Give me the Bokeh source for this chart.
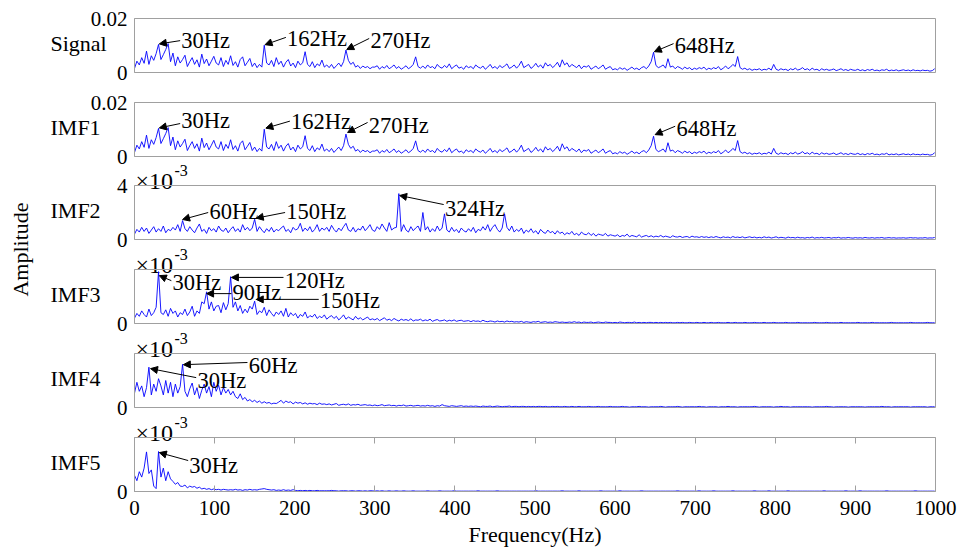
import numpy as np
from bokeh.plotting import figure
from bokeh.models import (Range1d, FixedTicker, LinearAxis, Label, Arrow,
                          NormalHead, CustomJSTickFormatter, ColumnDataSource)
from bokeh.layouts import column, row
from bokeh.embed import file_html
from bokeh.resources import INLINE

# ---------------- data (frequency bins every 3 Hz, 0..999 Hz) ----------------
freq_hz = np.arange(0, 1000, 3)

# Signal amplitude, units of 1e-4
signal_amp_e4 = [
    15, 42, 28, 55, 34, 79, 30, 62, 45, 70, 104, 48, 66, 85, 107, 40, 72, 25, 58, 35,
    48, 64, 22, 40, 55, 30, 47, 20, 68, 33, 50, 25, 42, 60, 35, 28, 55, 22, 45, 30,
    62, 26, 40, 20, 48, 58, 25, 38, 52, 22, 35, 18, 30, 20, 101, 35, 28, 45, 22, 55,
    30, 42, 20, 38, 48, 24, 35, 18, 42, 28, 36, 77, 30, 22, 40, 18, 32, 25, 46, 20,
    28, 18, 30, 15, 25, 35, 22, 40, 83, 45, 30, 38, 20, 26, 15, 24, 18, 22, 14, 20,
    20, 25, 12, 22, 16, 26, 14, 20, 28, 15, 22, 12, 18, 25, 14, 20, 30, 58, 22, 16,
    24, 15, 28, 18, 22, 14, 30, 20, 16, 26, 18, 32, 14, 22, 28, 16, 20, 12, 25, 18,
    22, 14, 28, 20, 16, 24, 12, 20, 30, 16, 22, 14, 26, 18, 24, 32, 15, 20, 28, 16,
    26, 42, 18, 24, 30, 15, 22, 34, 20, 28, 16, 36, 24, 30, 18, 26, 38, 20, 47, 28,
    36, 20, 30, 24, 18, 28, 14, 24, 20, 26, 12, 18, 24, 14, 20, 28, 12, 18, 22, 10,
    14, 10, 18, 12, 16, 8, 14, 20, 12, 16, 10, 18, 22, 14, 24, 40, 75, 26, 18, 22,
    28, 16, 51, 20, 24, 14, 22, 18, 12, 20, 14, 18, 10, 16, 12, 18, 14, 20, 10, 16,
    12, 18, 14, 22, 10, 16, 24, 14, 20, 30, 22, 59, 18, 12, 16, 10, 14, 8, 12, 10,
    14, 8, 12, 10, 16, 9, 30, 12, 8, 14, 10, 12, 7, 14, 10, 16, 9, 12, 18, 10,
    14, 8, 16, 10, 12, 7, 14, 9, 12, 8, 10, 13, 7, 10, 14, 8, 11, 7, 12, 9,
    8, 12, 7, 10, 6, 11, 8, 12, 7, 9, 6, 10, 8, 12, 6, 9, 7, 10, 6, 8,
    10, 7, 9, 6, 10, 7, 8, 6, 9, 7, 8, 5, 7, 14,
]
# IMF1 reads identical to the signal spectrum in the picture
imf1_amp_e4 = list(signal_amp_e4)

# IMF2..IMF5 amplitude, units of 1e-5
imf2_amp_e5 = [
    40, 75, 55, 90, 60, 85, 45, 70, 95, 55, 80, 60, 100, 50, 75, 65, 90, 70, 110, 60,
    140, 80, 60, 95, 70, 50, 85, 115, 60, 75, 45, 90, 65, 80, 55, 100, 70, 60, 85, 50,
    75, 95, 60, 80, 55, 110, 70, 90, 65, 85, 150, 60, 95, 70, 50, 80, 60, 90, 55, 75,
    65, 85, 100, 60, 75, 50, 90, 70, 80, 120, 60, 85, 65, 95, 55, 75, 110, 60, 85, 70,
    90, 60, 105, 75, 55, 85, 65, 95, 120, 70, 60, 90, 55, 80, 70, 100, 65, 85, 110, 70,
    60, 95, 75, 115, 85, 60, 125, 70, 85, 90, 340, 60, 110, 70, 55, 95, 65, 85, 100, 60,
    200, 70, 95, 55, 80, 60, 100, 65, 85, 190, 70, 55, 90, 60, 75, 50, 85, 65, 55, 80,
    60, 90, 50, 75, 65, 95, 70, 110, 60, 90, 110, 75, 55, 85, 190, 90, 65, 100, 55, 75,
    60, 85, 45, 70, 55, 80, 50, 65, 40, 75, 55, 45, 70, 50, 60, 40, 65, 45, 55, 35,
    50, 40, 60, 35, 45, 30, 55, 40, 35, 50, 30, 45, 25, 40, 35, 30, 45, 25, 35, 30,
    25, 35, 20, 30, 25, 40, 20, 30, 25, 20, 35, 18, 25, 30, 20, 28, 18, 25, 20, 30,
    18, 25, 20, 15, 28, 20, 18, 24, 15, 20, 22, 14, 25, 18, 20, 15, 22, 16, 20, 14,
    20, 15, 22, 16, 12, 20, 15, 18, 12, 22, 15, 18, 14, 20, 12, 16, 20, 14, 18, 12,
    16, 12, 20, 14, 18, 11, 15, 20, 12, 16, 14, 10, 18, 13, 15, 11, 17, 12, 14, 10,
    15, 12, 18, 10, 14, 12, 16, 11, 13, 15, 10, 14, 12, 16, 10, 13, 11, 15, 12, 10,
    14, 11, 13, 10, 15, 12, 11, 14, 10, 13, 12, 15, 10, 12, 14, 11, 13, 10, 12, 11,
    13, 10, 12, 14, 11, 13, 10, 12, 11, 14, 10, 12, 11, 15,
]
imf3_amp_e5 = [
    15, 28, 20, 35, 25, 18, 40, 22, 30, 45, 144, 30, 25, 38, 20, 42, 28, 35, 18, 30,
    25, 40, 22, 32, 48, 20, 35, 28, 60, 55, 88, 40, 60, 35, 48, 50, 30, 58, 38, 55,
    130, 45, 60, 35, 50, 28, 40, 30, 48, 40, 62, 25, 35, 30, 45, 22, 38, 28, 20, 32,
    25, 35, 20, 42, 18, 30, 22, 28, 15, 25, 20, 32, 15, 22, 18, 26, 14, 20, 16, 24,
    12, 18, 22, 14, 20, 10, 16, 24, 12, 18, 14, 10, 20, 12, 16, 10, 14, 18, 10, 13,
    10, 14, 8, 12, 16, 9, 12, 8, 14, 10, 7, 12, 9, 11, 8, 13, 7, 10, 9, 12,
    7, 10, 8, 12, 6, 9, 11, 7, 8, 10, 6, 9, 7, 10, 6, 8, 9, 6, 7, 8,
    5, 8, 6, 7, 5, 9, 6, 5, 7, 6, 4, 7, 5, 6, 4, 7, 5, 6, 4, 5,
    4, 6, 3, 5, 4, 3, 5, 4, 6, 3, 4, 5, 3, 4, 3, 5, 4, 3, 4, 3,
    3, 4, 3, 5, 3, 4, 2, 4, 3, 3, 4, 2, 3, 4, 3, 2, 4, 3, 3, 2,
    3, 2, 4, 3, 2, 3, 3, 2, 4, 2, 3, 2, 3, 2, 3, 3, 2, 3, 2, 3,
    2, 3, 2, 3, 2, 2, 3, 2, 3, 2, 2, 3, 2, 2, 3, 2, 2, 3, 2, 2,
    3, 2, 2, 3, 2, 2, 2, 3, 2, 2, 3, 2, 2, 2, 3, 2, 2, 2, 3, 2,
    2, 2, 3, 2, 2, 2, 3, 2, 2, 2, 2, 3, 2, 2, 2, 2, 3, 2, 2, 2,
    2, 2, 2, 3, 2, 2, 2, 2, 3, 2, 2, 2, 2, 2, 3, 2, 2, 2, 2, 2,
    2, 3, 2, 2, 2, 2, 2, 3, 2, 2, 2, 2, 2, 2, 2, 3, 2, 2, 2, 2,
    2, 2, 2, 3, 2, 2, 2, 2, 2, 2, 3, 2, 2, 2,
]
imf4_amp_e5 = [
    40, 70, 45, 60, 30, 55, 112, 35, 65, 45, 80, 60, 35, 75, 40, 70, 30, 65, 40, 58,
    120, 45, 30, 52, 68, 35, 55, 25, 48, 65, 40, 58, 30, 70, 45, 62, 35, 55, 40, 50,
    35, 45, 30, 25, 38, 22, 28, 18, 22, 16, 20, 14, 18, 12, 16, 12, 14, 10, 12, 11,
    15, 20, 12, 18, 14, 16, 10, 15, 12, 14, 10, 13, 9, 12, 10, 11, 8, 12, 9, 10,
    8, 10, 7, 9, 11, 6, 8, 9, 7, 10, 6, 8, 7, 9, 6, 7, 8, 6, 7, 5,
    7, 5, 6, 8, 5, 6, 7, 5, 6, 4, 6, 5, 7, 4, 5, 6, 4, 5, 6, 4,
    5, 4, 6, 4, 5, 3, 5, 4, 8, 5, 4, 3, 5, 4, 3, 4, 5, 3, 4, 3,
    4, 3, 4, 3, 2, 4, 3, 3, 4, 2, 3, 4, 3, 2, 3, 3, 4, 2, 3, 3,
    2, 3, 3, 2, 3, 2, 3, 2, 3, 3, 2, 3, 2, 2, 3, 2, 3, 2, 2, 3,
    2, 2, 3, 2, 2, 3, 2, 2, 2, 3, 2, 2, 2, 3, 2, 2, 2, 2, 3, 2,
    2, 2, 2, 3, 2, 2, 1, 2, 2, 2, 3, 2, 2, 2, 1, 2, 2, 2, 2, 3,
    2, 1, 2, 2, 2, 2, 3, 2, 1, 2, 2, 2, 2, 2, 2, 3, 2, 2, 1, 2,
    2, 2, 2, 1, 2, 2, 2, 3, 2, 2, 2, 1, 2, 2, 2, 2, 2, 2, 3, 2,
    1, 2, 2, 2, 2, 2, 1, 2, 2, 3, 2, 2, 2, 1, 2, 2, 2, 2, 2, 2,
    2, 2, 1, 2, 2, 2, 2, 2, 3, 2, 2, 1, 2, 2, 2, 2, 2, 1, 2, 2,
    2, 2, 2, 2, 1, 2, 2, 2, 2, 2, 2, 3, 2, 2, 2, 1, 2, 2, 2, 2,
    2, 2, 2, 1, 2, 2, 2, 2, 2, 2, 1, 2, 2, 2,
]
imf5_amp_e5 = [
    45, 30, 55, 40, 65, 110, 50, 60, 15, 8, 111, 40, 65, 30, 55, 35, 28, 20, 25, 15,
    14, 18, 10, 15, 12, 14, 9, 12, 7, 9, 6, 8, 5, 7, 5, 6, 4, 6, 5, 4,
    5, 4, 6, 4, 5, 3, 5, 4, 6, 4, 5, 4, 6, 7, 8, 6, 5, 4, 5, 3,
    4, 3, 5, 3, 4, 3, 5, 3, 2, 3, 2, 3, 2, 3, 2, 2, 3, 2, 2, 2,
    2, 2, 3, 2, 2, 1, 2, 2, 2, 1, 2, 2, 1, 2, 2, 1, 2, 1, 2, 2,
    1, 2, 1, 2, 1, 1, 2, 1, 1, 2, 1, 1, 2, 1, 1, 1, 2, 1, 1, 1,
    1, 1, 2, 1, 1, 1, 1, 2, 1, 1, 1, 1, 1, 2, 1, 1, 1, 1, 1, 1,
    1, 1, 1, 2, 1, 1, 1, 1, 1, 1, 1, 2, 1, 1, 1, 1, 1, 1, 1, 1,
    1, 1, 1, 1, 1, 1, 1, 2, 1, 1, 1, 1, 1, 1, 1, 1, 1, 1, 2, 1,
    1, 1, 1, 1, 1, 2, 1, 1, 1, 1, 1, 1, 1, 1, 2, 1, 1, 1, 1, 1,
    1, 1, 2, 1, 1, 1, 1, 1, 1, 1, 1, 2, 1, 1, 1, 1, 1, 1, 1, 1,
    1, 1, 1, 1, 1, 1, 2, 1, 1, 1, 1, 1, 1, 1, 1, 2, 1, 1, 1, 1,
    1, 2, 1, 1, 1, 1, 1, 1, 1, 2, 1, 1, 1, 1, 1, 1, 1, 1, 2, 1,
    1, 1, 1, 1, 2, 1, 1, 1, 1, 1, 1, 1, 2, 1, 1, 1, 1, 1, 1, 1,
    1, 1, 1, 1, 1, 1, 1, 2, 1, 1, 1, 1, 1, 1, 1, 1, 2, 1, 1, 1,
    1, 1, 2, 1, 1, 1, 1, 1, 1, 1, 1, 1, 1, 2, 1, 1, 1, 1, 1, 1,
    1, 1, 1, 1, 1, 2, 1, 1, 1, 1, 1, 1, 1, 1,
]

panel_names = ["Signal", "IMF1", "IMF2", "IMF3", "IMF4", "IMF5"]
panel_amps = [signal_amp_e4, imf1_amp_e4, imf2_amp_e5, imf3_amp_e5, imf4_amp_e5, imf5_amp_e5]
panel_ymax = [200, 200, 400, 150, 150, 150]
panel_yticks = [{0: "0", 200: "0.02"}, {0: "0", 200: "0.02"}, {0: "0", 400: "4"},
                {0: "0"}, {0: "0"}, {0: "0"}]
panel_multiplier = [False, False, True, True, True, True]
x_ticks = [0, 100, 200, 300, 400, 500, 600, 700, 800, 900, 1000]

# annotations: (text, peak freq, tip dx, tip dy, tail freq, tail y, text y)
panel_notes = [
    [("30Hz", 30, 1, 2, 57, 118, 118), ("162Hz", 162, 1, 2, 189, 130, 126),
     ("270Hz", 264, 1, 2, 293, 126, 120), ("648Hz", 648, 1, 2, 673, 107, 100)],
    [("30Hz", 30, 1, 2, 57, 122, 133), ("162Hz", 162, 2, 4, 194, 131, 131),
     ("270Hz", 264, 2, 6, 291, 126, 115), ("648Hz", 648, 2, 6, 675, 112, 104)],
    [("60Hz", 60, 0, 8, 92, 200, 207), ("150Hz", 150, 2, 8, 188, 200, 207),
     ("324Hz", 330, 1, -14, 386, 259, 233)],
    [("30Hz", 30, 1, -11, 46, 119, 114), ("120Hz", 120, 1, -2, 186, 128, 119),
     ("90Hz", 90, 0, -5, 121, 83, 86), ("150Hz", 150, 2, 5, 230, 67, 64)],
    [("60Hz", 60, 1, -1, 141, 125, 117), ("30Hz", 18, 2, -4, 77, 83, 75)],
    [("30Hz", 30, 1, -3, 67, 86, 72)],
]

# ---------------- styling / layout ----------------
FONT = "Liberation Serif"
GRAY = "#a0a0a0"
BLUE = "#0000ff"
FRAME_H = 54
PANEL_X0 = 40          # left edge of the panel canvases on the page
PANEL_BORDER_L = 94    # frame starts at PANEL_X0 + PANEL_BORDER_L
OVERLAY_W = 200
# (canvas height, top border, bottom border, top margin)
layout_spec = [(102, 18, 30, 0), (114, 30, 30, -30), (114, 30, 30, -31),
               (114, 30, 30, -30), (114, 30, 30, -30), (142, 30, 58, -30)]

# page y of each frame top
frame_tops = []
canvas_top = 0
for i, (h, bt, bb, mt) in enumerate(layout_spec):
    canvas_top += mt
    frame_tops.append(canvas_top + bt)
    canvas_top += h

figs = []
n = len(panel_names)
for i in range(n):
    h, bt, bb, mt = layout_spec[i]
    ymax = panel_ymax[i]
    last = (i == n - 1)
    p = figure(width=921, height=h, output_backend="svg", toolbar_location=None,
               x_range=Range1d(0, 1000), y_range=Range1d(0, ymax),
               x_axis_location="below" if last else None,
               min_border_left=PANEL_BORDER_L, min_border_right=26,
               min_border_top=bt, min_border_bottom=bb,
               border_fill_color=None, background_fill_color=None,
               outline_line_color=GRAY, outline_line_width=1)
    p.grid.visible = False
    if mt:
        p.margin = (mt, 0, 0, 0)

    src = ColumnDataSource(dict(f=freq_hz, a=np.array(panel_amps[i], dtype=float)))
    p.line("f", "a", source=src, line_color=BLUE, line_width=0.9)

    ya = p.yaxis[0]
    ya.ticker = FixedTicker(ticks=list(panel_yticks[i].keys()))
    ya.major_label_overrides = panel_yticks[i]
    ya.major_tick_in = 0
    ya.major_tick_out = 0
    ya.minor_tick_line_color = None
    ya.axis_line_color = GRAY
    ya.major_label_standoff = 7
    ya.major_label_text_font = FONT
    ya.major_label_text_font_size = "21px"
    ya.major_label_text_color = "black"

    if last:
        xa = p.xaxis[0]
        xa.ticker = FixedTicker(ticks=x_ticks)
        xa.major_tick_in = 6
        xa.major_tick_out = 0
        xa.minor_tick_line_color = None
        xa.major_tick_line_color = GRAY
        xa.axis_line_color = GRAY
        xa.major_label_standoff = 9
        xa.major_label_text_font = FONT
        xa.major_label_text_font_size = "21px"
        xa.major_label_text_color = "black"
        xa.axis_label = "Frequency(Hz)"
        xa.axis_label_standoff = 4
        xa.axis_label_text_font = FONT
        xa.axis_label_text_font_size = "22px"
        xa.axis_label_text_font_style = "normal"
        xa.axis_label_text_color = "black"
        top = LinearAxis(ticker=FixedTicker(ticks=x_ticks),
                         formatter=CustomJSTickFormatter(code="return ''"),
                         major_tick_in=6, major_tick_out=0,
                         major_tick_line_color=GRAY, minor_tick_line_color=None,
                         axis_line_color=None, major_label_standoff=0)
        p.add_layout(top, "above")

    # peak annotations
    amps = panel_amps[i]
    for (txt, pf, dx, dy, tf, ty, txy) in panel_notes[i]:
        tip_y = amps[pf // 3] + dy
        p.add_layout(Arrow(end=NormalHead(size=7, fill_color="black", line_color="black",
                                          line_width=1),
                           x_start=tf, y_start=ty, x_end=pf + dx, y_end=tip_y,
                           line_color="black", line_width=1))
        p.add_layout(Label(x=tf + 1.5, y=txy, text=txt, text_align="left",
                           text_baseline="middle", text_font=FONT,
                           text_font_size="22.5px", text_color="black"))
    figs.append(p)

# transparent overlay on the left (page pixel coordinates, y down) for the
# shared y label, the panel names and the x10^-3 multipliers
ov = figure(width=OVERLAY_W, height=549, output_backend="svg", toolbar_location=None,
            x_range=Range1d(0, OVERLAY_W), y_range=Range1d(549, 0),
            x_axis_location=None, y_axis_location=None, min_border=0,
            outline_line_color=None, border_fill_color=None,
            background_fill_color=None)
ov.grid.visible = False
ov.add_layout(Label(x=20, y=249, text="Amplitude", angle=np.pi / 2,
                    text_align="center", text_baseline="middle",
                    text_font=FONT, text_font_size="22px", text_color="black"))
frame_left = PANEL_X0 + PANEL_BORDER_L
for i in range(n):
    ft = frame_tops[i]
    ov.add_layout(Label(x=50, y=ft + FRAME_H * 0.47, text=panel_names[i],
                        text_align="left", text_baseline="middle",
                        text_font=FONT, text_font_size="22px", text_color="black"))
    if panel_multiplier[i]:
        ov.add_layout(Label(x=frame_left + 1, y=ft - 5, text="×10",
                            text_align="left", text_baseline="alphabetic",
                            text_font=FONT, text_font_size="24px", text_color="black"))
        ov.add_layout(Label(x=frame_left + 40, y=ft - 15, text="-3",
                            text_align="left", text_baseline="alphabetic",
                            text_font=FONT, text_font_size="16px", text_color="black"))

panels = column(*figs, spacing=0)
panels.margin = (0, 0, 0, PANEL_X0 - OVERLAY_W)
layout = row(ov, panels, spacing=0)

open("out.html", "w").write(file_html(layout, INLINE))
